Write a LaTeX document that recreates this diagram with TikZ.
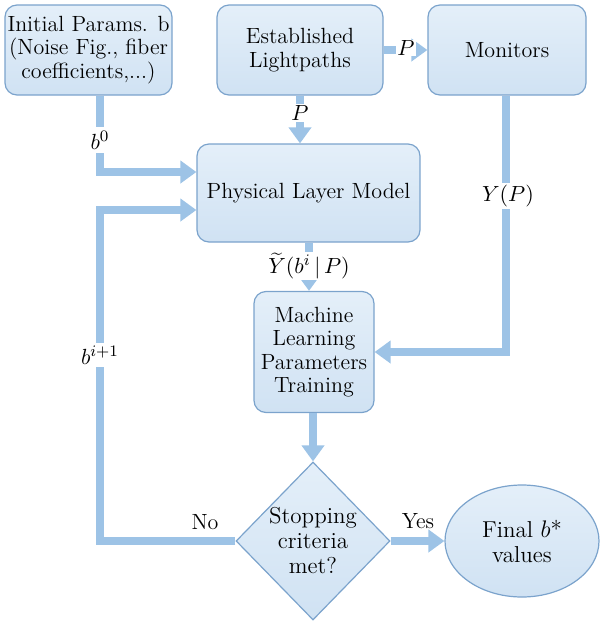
\documentclass[tikz,border=0pt]{standalone}
\usetikzlibrary{arrows.meta,shapes.geometric}
\definecolor{arr}{HTML}{9DC3E6}
\definecolor{bord}{HTML}{7BA3CC}
\definecolor{fillA}{HTML}{E4EFF9}
\definecolor{fillB}{HTML}{D0E2F3}
\begin{document}
\begin{tikzpicture}[x=0.5pt,y=-0.5pt,
  box/.style={draw=bord, line width=0.6pt, rounded corners=6pt, top color=fillA, bottom color=fillB,
    align=center, font=\fontsize{11}{11.7}\selectfont, inner sep=0pt},
  flow/.style={draw=arr, line width=4pt, -{Triangle[width=11pt,length=8pt]}},
  lab/.style={fill=white, inner sep=1pt, font=\fontsize{11}{12}\selectfont},
  plain/.style={inner sep=1pt, font=\fontsize{11}{12}\selectfont}]
\useasboundingbox (0,0) rectangle (600,622);

% boxes
\node[box, minimum width=83.5pt, minimum height=45pt] (init) at (88.5,50)
  {Initial Params. b\\(Noise Fig., fiber\\coefficients,...)};
\node[box, minimum width=83pt, minimum height=45pt] (lp) at (300,50)
  {Established\\Lightpaths};
\node[box, minimum width=79pt, minimum height=45pt] (mon) at (507,50)
  {Monitors};
\node[box, minimum width=111.5pt, minimum height=49pt] (plm) at (308.5,193)
  {Physical Layer Model};
\node[box, minimum width=60pt, minimum height=60.5pt] (ml) at (314,352)
  {Machine\\Learning\\Parameters\\Training};
\node[diamond, draw=bord, line width=0.6pt, top color=fillA, bottom color=fillB,
  minimum width=77pt, minimum height=79pt, inner sep=0pt] (dia) at (313,541) {};
\node[align=center, font=\fontsize{11.5}{12.5}\selectfont] (diat) at (dia.center)
  {Stopping\\criteria\\met?};
\node[ellipse, draw=bord, line width=0.6pt, top color=fillA, bottom color=fillB,
  minimum width=77pt, minimum height=56pt, inner sep=0pt, align=center,
  font=\fontsize{11.5}{12.5}\selectfont] (ell) at (522,541) {Final $b$*\\values};

% connectors
\coordinate (lc) at (100,210);
\draw[flow] (100,0 |- init.south) |- (plm.west |- 0,172);
\draw[flow] (lp.south) -- (lp.south |- plm.north);
\draw[flow] (lp.east) -- (mon.west);
\draw[flow] (506,0 |- mon.south) |- (ml.east);
\draw[flow] (309,0 |- plm.south) -- (309,0 |- ml.north);
\draw[flow] (313,0 |- ml.south) -- (dia.north);
\draw[flow] (dia.east) -- (dia.east -| ell.west);
\draw[flow] (dia.west) -| (lc) -- (plm.west |- lc);

% labels
\node[lab, minimum height=13pt] (lb0) at (100,140) {$b^{0}$};
\node[lab] (lp1) at (300,113) {$P$};
\node[lab, inner sep=0.5pt] (lp2) at (406,48) {$P$};
\node[lab, minimum height=12pt] (lyp) at (508,196) {$Y(P)$};
\node[lab, inner sep=0.5pt] (lyt) at (309,266) {$\widetilde{Y}(b^{i}\,|\,P)$};
\node[lab, minimum height=12pt] (lbi) at (100,355) {$b^{i+1}$};
\node[plain] (lno) at (205,522) {No};
\node[plain] (lyes) at (418,521) {Yes};
\end{tikzpicture}
\end{document}
